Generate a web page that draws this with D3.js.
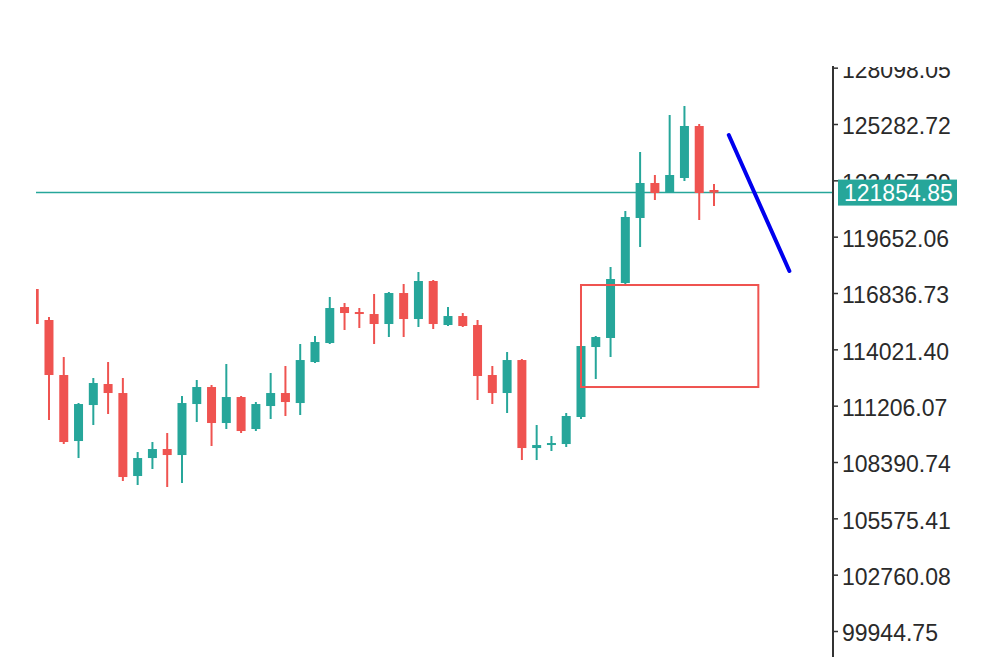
<!DOCTYPE html>
<html>
<head>
<meta charset="utf-8">
<script src="https://cdn.jsdelivr.net/npm/d3@7"></script>
<style>
  body { margin: 0; background: #fff; }
  .tick text { font-family: "Liberation Sans", Arial, sans-serif; }
</style>
</head>
<body>
<script>
const width = 1000;
const height = 664;

// candle data, oldest first
var opens  = [117036, 115487, 112738, 109439, 111238, 112288, 111838, 107690, 108589, 109039,
              108739, 111288, 112138, 110339, 111638, 110039, 111188, 111838, 111338, 113387,
              114337, 116136, 115886, 115786, 115287, 116836, 115536, 117436, 115237, 115686,
              115237, 112738, 111838, 113487, 109089, 109239, 109289, 110639, 114137, 114588,
              117336, 120585, 122334, 121834, 122584, 125183, 121984];
var highs  = [117086, 115637, 113637, 111338, 112588, 113387, 112588, 108889, 109389, 109839,
              111688, 112488, 112238, 113288, 111688, 111388, 112838, 113188, 114287, 114687,
              116636, 116336, 116086, 116786, 116886, 117286, 117886, 117486, 116136, 115836,
              115487, 113188, 113887, 113537, 110239, 109689, 110839, 114237, 114687, 118136,
              120934, 123883, 122734, 125732, 126182, 125283, 122284];
var lows   = [115237, 110489, 109289, 108589, 110239, 110789, 107440, 107240, 108040, 107140,
              107340, 110389, 109189, 110039, 109839, 109939, 110539, 110689, 110739, 113337,
              114287, 114987, 115087, 114287, 114637, 114637, 115137, 115037, 115187, 115137,
              111488, 111288, 110839, 108489, 108489, 108939, 109139, 110539, 112538, 113637,
              117236, 119135, 121484, 121834, 122434, 120485, 121184];
var closes = [115287, 112738, 109389, 111288, 112338, 111838, 107640, 108589, 109039, 108739,
              111338, 112138, 110339, 111638, 109939, 111288, 111838, 111388, 113487, 114387,
              116086, 115836, 115786, 115287, 116836, 115536, 117436, 115287, 115686, 115187,
              112688, 111838, 113487, 109089, 109239, 109339, 110689, 114187, 114637, 117536,
              120635, 122334, 121834, 122734, 125183, 121834, 121854.85];

// price axis labels
var tickValues = [128098.05, 125282.72, 122467.39, 119652.06, 116836.73, 114021.40,
                  111206.07, 108390.74, 105575.41, 102760.08, 99944.75];
var lastPrice = 121854.85;

// drawn objects: rectangle zone and trend line (candle index, price)
var zoneIndex = [37, 49];
var zonePrice = [117236, 112138];
var trendIndex = [47, 51.1];
var trendPrice = [124733, 117936];

var green = "#26a69a";
var red = "#ef5350";

var candles = opens.map(function(o, i) {
    return { i: i, o: o, h: highs[i], l: lows[i], c: closes[i] };
});

var svg = d3.select("body")
  .append("svg")
  .attr("width", width)
  .attr("height", height);

var x = d3.scaleLinear().domain([0, 46]).range([34.2, 714]);
var y = d3.scaleLinear().domain([99944.75, 125282.72]).range([631, 124]);

var plotLeft = 36, plotRight = 833, plotTop = 66;

var defs = svg.append("defs");
defs.append("clipPath").attr("id", "plot")
  .append("rect")
  .attr("x", plotLeft).attr("y", plotTop)
  .attr("width", plotRight - plotLeft).attr("height", height - plotTop);
defs.append("clipPath").attr("id", "axisclip")
  .append("rect")
  .attr("x", plotRight).attr("y", 67)
  .attr("width", width - plotRight).attr("height", height - 67);

var plot = svg.append("g").attr("clip-path", "url(#plot)");

// last price line
plot.append("line")
  .attr("x1", plotLeft).attr("x2", plotRight)
  .attr("y1", y(lastPrice)).attr("y2", y(lastPrice))
  .attr("stroke", green)
  .attr("stroke-width", 1.5);

// candles
var candle = plot.selectAll("g.candle")
  .data(candles)
  .enter()
  .append("g")
  .attr("class", "candle");

candle.append("line")
  .attr("x1", d => x(d.i)).attr("x2", d => x(d.i))
  .attr("y1", d => y(d.h)).attr("y2", d => y(d.l))
  .attr("stroke", d => d.c >= d.o ? green : red)
  .attr("stroke-width", 2);

candle.append("rect")
  .attr("x", d => x(d.i) - 4.5)
  .attr("width", 9)
  .attr("y", d => y(Math.max(d.o, d.c)))
  .attr("height", d => Math.max(2, Math.abs(y(d.o) - y(d.c))))
  .attr("fill", d => d.c >= d.o ? green : red);

// zone rectangle
plot.append("rect")
  .attr("x", x(zoneIndex[0]))
  .attr("y", y(zonePrice[0]))
  .attr("width", x(zoneIndex[1]) - x(zoneIndex[0]))
  .attr("height", y(zonePrice[1]) - y(zonePrice[0]))
  .attr("fill", "none")
  .attr("stroke", red)
  .attr("stroke-width", 2);

// trend line
plot.append("line")
  .attr("x1", x(trendIndex[0])).attr("y1", y(trendPrice[0]))
  .attr("x2", x(trendIndex[1])).attr("y2", y(trendPrice[1]))
  .attr("stroke", "#0000ee")
  .attr("stroke-width", 4)
  .attr("stroke-linecap", "round");

// price axis
svg.append("line")
  .attr("x1", plotRight).attr("x2", plotRight)
  .attr("y1", plotTop).attr("y2", 657)
  .attr("stroke", "#333")
  .attr("stroke-width", 2);

var axis = svg.append("g")
  .attr("clip-path", "url(#axisclip)")
  .append("g")
  .attr("transform", "translate(" + plotRight + ",0)")
  .call(d3.axisRight(y)
    .tickValues(tickValues)
    .tickFormat(d3.format(".2f"))
    .tickSize(5)
    .tickPadding(4));

axis.select(".domain").remove();
axis.selectAll(".tick line").attr("stroke", "#333").attr("stroke-width", 1.5);
axis.selectAll(".tick text")
  .attr("font-size", 23)
  .attr("fill", "#2a2a2a")
  .attr("dy", "0.42em");

// last price label
var tag = svg.append("g").attr("transform", "translate(838," + y(lastPrice) + ")");
tag.append("rect")
  .attr("x", 0).attr("y", -13)
  .attr("width", 119).attr("height", 26)
  .attr("fill", green);
tag.append("text")
  .attr("x", 6).attr("y", 0)
  .attr("dy", "0.36em")
  .attr("font-family", "Liberation Sans, Arial, sans-serif")
  .attr("font-size", 23)
  .attr("fill", "#fff")
  .text(d3.format(".2f")(lastPrice));
</script>
</body>
</html>
